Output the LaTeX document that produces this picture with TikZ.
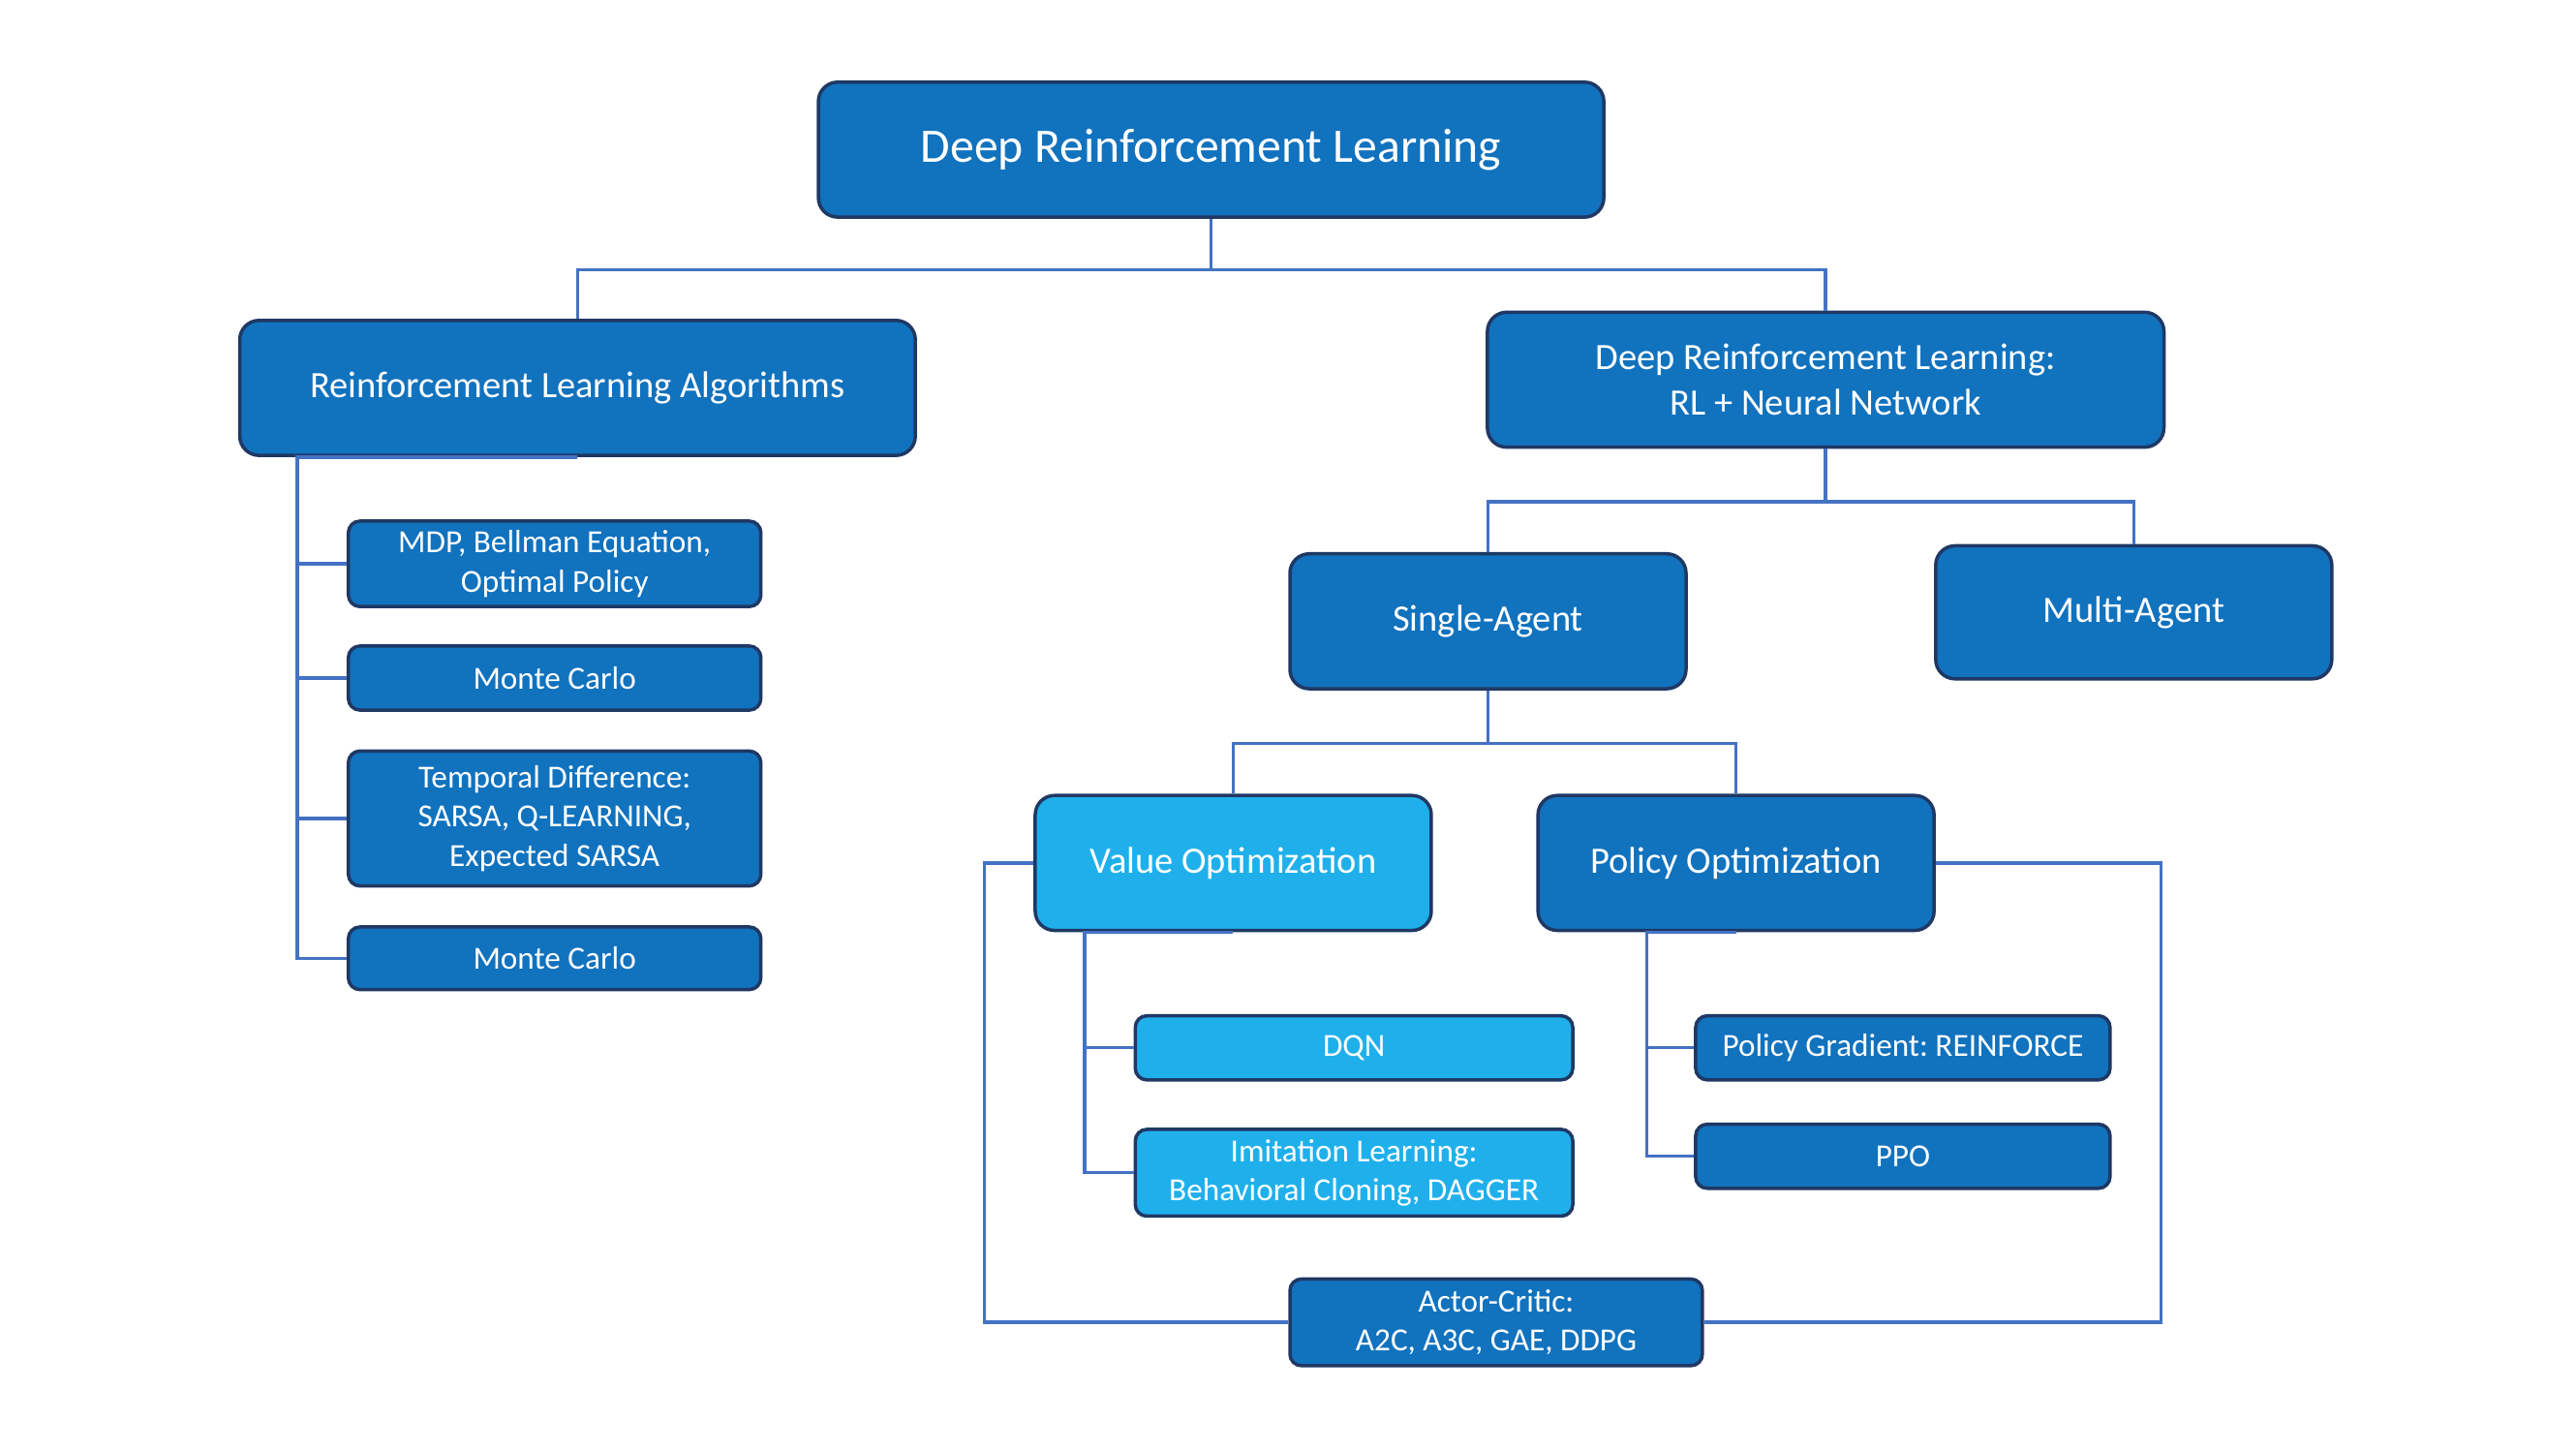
\documentclass[tikz,border=0pt]{standalone}
\usepackage{fontspec}
\setmainfont{Carlito}
\usetikzlibrary{positioning}
\frenchspacing

\definecolor{boxblue}{HTML}{1172BE}
\definecolor{lightblue}{HTML}{1FB0EC}
\definecolor{rimblue}{HTML}{1F3864}
\definecolor{linkblue}{HTML}{4472C4}

\begin{document}
\begin{tikzpicture}
		[main node/.style={draw=rimblue,line width=1pt,fill=boxblue,text=white,rounded corners=2mm,align=center,inner sep=0pt,font=\fontsize{11}{13.5}\selectfont},
		leaf node/.style={main node,rounded corners=1.2mm,minimum width=4.28cm,font=\fontsize{9.5}{11.6}\selectfont},
		link/.style={draw=linkblue,line width=1pt}]
		\useasboundingbox (0,0) rectangle (26.73,-15.055);
		
		\node[main node,minimum width=8.15cm,minimum height=1.4cm,font=\fontsize{14.2}{17}\selectfont] (top) at (12.567,-1.552) {Deep Reinforcement Learning};
		
		\node[main node,minimum width=7.01cm,minimum height=1.4cm] (rla) at (5.993,-4.024) {Reinforcement Learning Algorithms};
		\node[main node,minimum width=7.02cm,minimum height=1.4cm] (drl) at (18.944,-3.939) {Deep Reinforcement Learning:\\RL + Neural Network};
		
		\node[leaf node,minimum height=0.887cm] (mdp) at (5.755,-5.849) {MDP, Bellman Equation,\\Optimal Policy};
		\node[leaf node,minimum height=0.665cm] (mc1) at (5.755,-7.034) {Monte Carlo};
		\node[leaf node,minimum height=1.4cm] (td) at (5.755,-8.491) {Temporal Difference:\\SARSA, Q-LEARNING,\\Expected SARSA};
		\node[leaf node,minimum height=0.65cm] (mc2) at (5.755,-9.941) {Monte Carlo};
		
		\node[main node,minimum width=4.11cm,minimum height=1.4cm] (sa) at (15.44,-6.445) {Single-Agent};
		\node[main node,minimum width=4.11cm,minimum height=1.38cm] (ma) at (22.141,-6.352) {Multi-Agent};
		
		\node[main node,fill=lightblue,minimum width=4.11cm,minimum height=1.4cm] (vo) at (12.797,-8.952) {Value Optimization};
		\node[main node,minimum width=4.11cm,minimum height=1.4cm] (po) at (18.014,-8.952) {Policy Optimization};
		
		\node[leaf node,fill=lightblue,minimum width=4.54cm,minimum height=0.665cm] (dqn) at (14.05,-10.87) {DQN};
		\node[leaf node,fill=lightblue,minimum width=4.54cm,minimum height=0.9cm] (il) at (14.05,-12.166) {Imitation Learning:\\Behavioral Cloning, DAGGER};
		\node[leaf node,minimum width=4.3cm,minimum height=0.665cm] (pg) at (19.745,-10.87) {Policy Gradient: REINFORCE};
		\node[leaf node,minimum width=4.3cm,minimum height=0.665cm] (ppo) at (19.745,-11.995) {PPO};
		
		\node[leaf node,minimum height=0.9cm] (ac) at (15.525,-13.718) {Actor-Critic:\\A2C, A3C, GAE, DDPG};
		
		\draw[link] (top.south) -- ++(0,-0.53) -| (rla.north);
		\draw[link] (top.south) -- ++(0,-0.53) -| (drl.north);
		\draw[link] (drl.south) -- ++(0,-0.55) -| (sa.north);
		\draw[link] (drl.south) -- ++(0,-0.55) -| (ma.north);
		\draw[link] (sa.south) -- ++(0,-0.55) -| (vo.north);
		\draw[link] (sa.south) -- ++(0,-0.55) -| (po.north);
		
		\foreach \c in {mdp,mc1,td,mc2}
		\draw[link] (rla.south) -| ([xshift=-5.1mm]\c.west) -- (\c.west);
		\foreach \c in {dqn,il}
		\draw[link] (vo.south) -| ([xshift=-5.1mm]\c.west) -- (\c.west);
		\foreach \c in {pg,ppo}
		\draw[link] (po.south) -| ([xshift=-4.9mm]\c.west) -- (\c.west);
		
		\draw[link] (vo.west) -- ++(-0.51,0) |- (ac.west);
		\draw[link] (po.east) -- ++(2.336,0) |- (ac.east);
		\end{tikzpicture}
\end{document}
